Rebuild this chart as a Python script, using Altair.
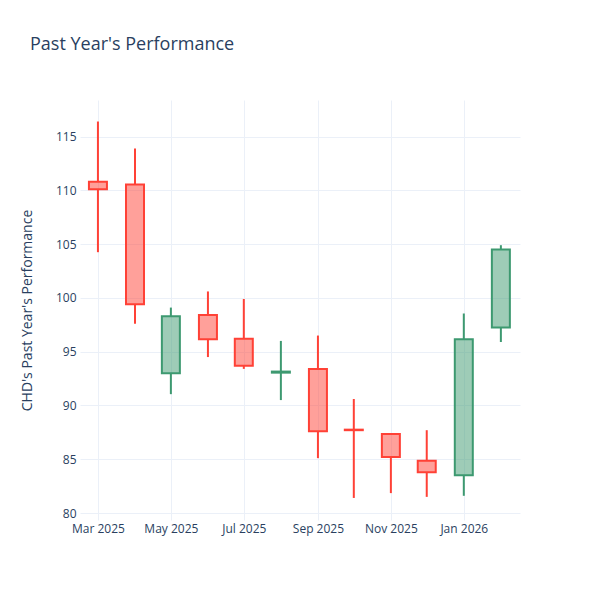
import altair as alt
import pandas as pd

dates = ["2025-03-01", "2025-04-01", "2025-05-01", "2025-06-01", "2025-07-01", "2025-08-01",
         "2025-09-01", "2025-10-01", "2025-11-01", "2025-12-01", "2026-01-01", "2026-02-01"]
opens = [110.8, 110.55, 93.0, 98.4, 96.2, 93.05, 93.4, 87.75, 87.35, 84.85, 83.5, 97.25]
highs = [116.4, 113.9, 99.1, 100.6, 99.9, 96.0, 96.5, 90.6, 87.4, 87.7, 98.55, 104.9]
lows = [104.25, 97.6, 91.05, 94.5, 93.4, 90.5, 85.1, 81.4, 81.85, 81.5, 81.6, 95.9]
closes = [110.1, 99.4, 98.3, 96.15, 93.7, 93.15, 87.6, 87.7, 85.2, 83.8, 96.15, 104.5]

tick_dates = ["2025-03-01", "2025-05-01", "2025-07-01", "2025-09-01", "2025-11-01", "2026-01-01"]
y_ticks = [80, 85, 90, 95, 100, 105, 110, 115]

df = pd.DataFrame({"date": dates, "open": opens, "high": highs, "low": lows, "close": closes})
df["top"] = df[["open", "close"]].max(axis=1)
df["bottom"] = df[["open", "close"]].min(axis=1)
df["dir"] = ["up" if c >= o else "down" for o, c in zip(opens, closes)]

font = "Open Sans"
txt = "#2a3f5f"
grid = "#EBF0F8"

color = alt.Color("dir:N", scale=alt.Scale(domain=["up", "down"], range=["#3D9970", "#FF4136"]), legend=None)

x = alt.X("date:T",
          scale=alt.Scale(domain=["2025-02-14", "2026-02-17"], padding=0, nice=False),
          axis=alt.Axis(values=tick_dates, format="%b %Y", title=None, grid=True, gridColor=grid,
                        domain=False, ticks=False, labelPadding=3, labelFontSize=12,
                        labelColor=txt, labelFont=font, labelFlush=False))
y = alt.Y("high:Q",
          scale=alt.Scale(domain=[79.35, 118.4], nice=False, zero=False),
          axis=alt.Axis(values=y_ticks, title="CHD's Past Year's Performance", grid=True,
                        gridColor=grid, domain=False, ticks=False, labelPadding=4,
                        labelFontSize=12, labelColor=txt, labelFont=font,
                        titleFont=font, titleFontSize=14, titleColor=txt,
                        titleFontWeight="normal", titlePadding=21))

base = alt.Chart(df)
wick_up = base.mark_rule(strokeWidth=2).encode(x=x, y=y, y2="top:Q", color=color)
wick_down = base.mark_rule(strokeWidth=2).encode(x=x, y=alt.Y("bottom:Q"), y2="low:Q", color=color)
body = base.mark_bar(size=18, strokeWidth=2, fillOpacity=0.5).encode(
    x=x, y=alt.Y("open:Q"), y2="close:Q", color=color, stroke=color)

chart = alt.layer(wick_up, wick_down, body).properties(
    width=440, height=420,
    autosize=alt.AutoSizeParams(type="none"),
    padding={"left": 72, "top": 92, "right": 72, "bottom": 72},
    background="white",
    title=alt.TitleParams("Past Year's Performance", anchor="start", frame="group", dx=-50, offset=46,
                          font=font, fontSize=18, color=txt, fontWeight="normal"),
).configure_view(stroke=None)

chart.save("out.html", embed_options={"renderer": "svg", "actions": False})
